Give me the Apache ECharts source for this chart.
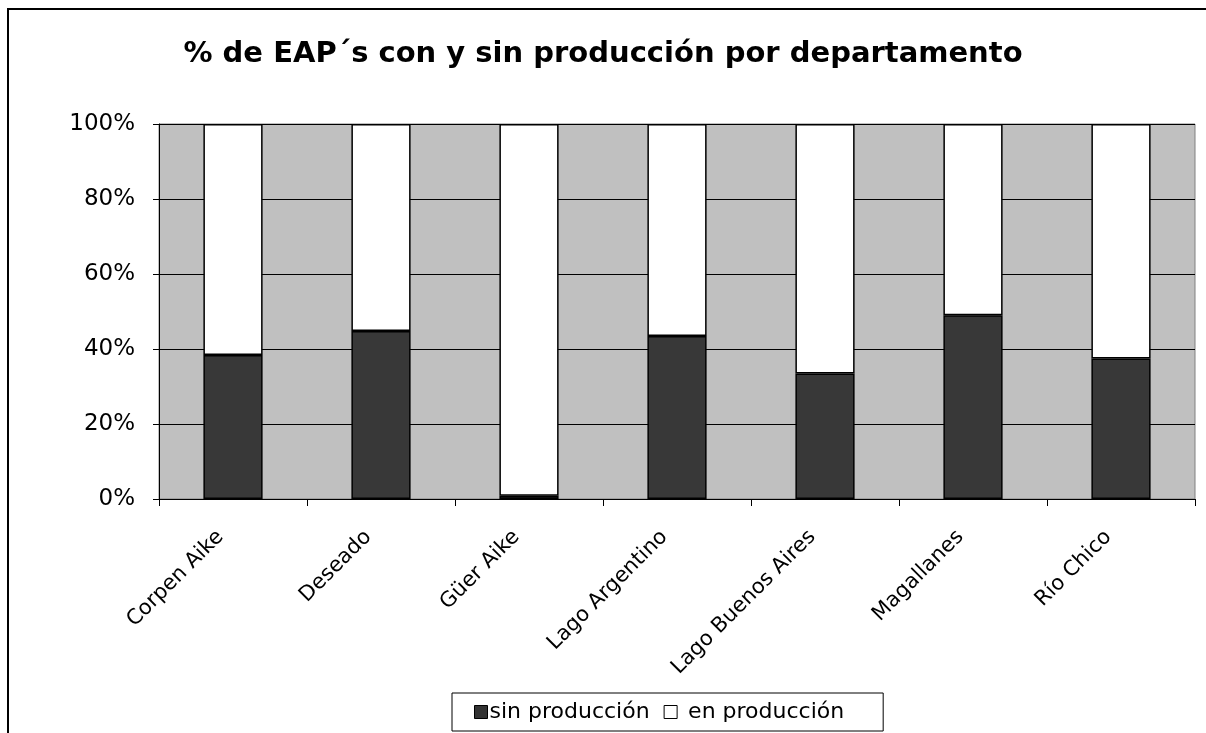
<!DOCTYPE html>
<html>
<head>
<meta charset="utf-8">
<script src="https://cdn.jsdelivr.net/npm/echarts@6/dist/echarts.min.js"></script>
<style>
html,body{margin:0;padding:0;background:#fff;overflow:hidden;}
#c{width:1206px;height:733px;position:relative;}
#frame{position:absolute;left:7px;top:8px;width:1400px;height:900px;border-left:2px solid #000;border-top:2px solid #000;pointer-events:none;}
</style>
</head>
<body>
<div id="c"></div>
<div id="frame"></div>
<script>
var titleText = '% de EAP´s con y sin producción por departamento';
var categories = ['Corpen Aike', 'Deseado', 'Güer Aike', 'Lago Argentino', 'Lago Buenos Aires', 'Magallanes', 'Río Chico'];
var sinProduccion = [38.4, 44.8, 0.9, 43.5, 33.5, 49.0, 37.5];
var enProduccion = [61.6, 55.2, 99.1, 56.5, 66.5, 51.0, 62.5];
var seriesNames = ['sin producción', 'en producción'];
var yTicks = [0, 20, 40, 60, 80, 100];

var FONT = 'DejaVu Sans';
var chart = echarts.init(document.getElementById('c'), null, {renderer: 'canvas'});
chart.setOption({
  animation: false,
  backgroundColor: '#fff',
  textStyle: {fontFamily: FONT, color: '#000'},
  title: {
    text: titleText,
    left: 'center',
    top: 35,
    textStyle: {fontFamily: FONT, fontWeight: 'bold', fontSize: 29, color: '#000'}
  },
  legend: {
    data: [
      {name: seriesNames[0], itemStyle: {color: '#333', borderColor: '#000', borderWidth: 1}},
      {name: seriesNames[1], itemStyle: {color: '#fff', borderColor: '#000', borderWidth: 1},
       textStyle: {padding: [0, 0, 0, 6]}}
    ],
    left: 452,
    top: 693,
    icon: 'rect',
    itemWidth: 13,
    itemHeight: 13,
    itemGap: 14,
    padding: [8, 39, 8, 22],
    borderColor: '#000',
    borderWidth: 1,
    backgroundColor: '#fff',
    textStyle: {fontFamily: FONT, fontSize: 22, color: '#000', padding: [0, 0, 0, -3]}
  },
  grid: {
    left: 159, right: 11, top: 124, bottom: 234,
    show: true,
    backgroundColor: '#c0c0c0',
    borderColor: '#808080',
    borderWidth: 1
  },
  xAxis: {
    type: 'category',
    data: categories,
    boundaryGap: true,
    axisLine: {show: true, lineStyle: {color: '#000', width: 1}},
    axisTick: {show: true, length: 7, lineStyle: {color: '#000', width: 1}},
    axisLabel: {
      rotate: 45,
      interval: 0,
      margin: 22,
      padding: [0, 18, 0, 0],
      fontFamily: FONT,
      fontSize: 21,
      color: '#000'
    }
  },
  yAxis: {
    type: 'value',
    min: 0, max: 100, interval: 20,
    axisLine: {show: true, lineStyle: {color: '#000', width: 1}},
    axisTick: {show: true, length: 6, lineStyle: {color: '#000'}},
    splitLine: {show: true, lineStyle: {color: '#000', width: 1}},
    axisLabel: {
      margin: 24,
      fontFamily: FONT,
      fontSize: 23,
      color: '#000',
      formatter: function (v) { return yTicks.indexOf(v) >= 0 ? v + '%' : ''; }
    }
  },
  series: [
    {
      name: seriesNames[0],
      type: 'bar',
      stack: 'total',
      barWidth: '40%',
      data: sinProduccion,
      itemStyle: {color: '#383838', borderColor: '#000', borderWidth: 1.5}
    },
    {
      name: seriesNames[1],
      type: 'bar',
      stack: 'total',
      barWidth: '40%',
      data: enProduccion,
      itemStyle: {color: '#fff', borderColor: '#000', borderWidth: 1.5}
    }
  ]
});
</script>
</body>
</html>
